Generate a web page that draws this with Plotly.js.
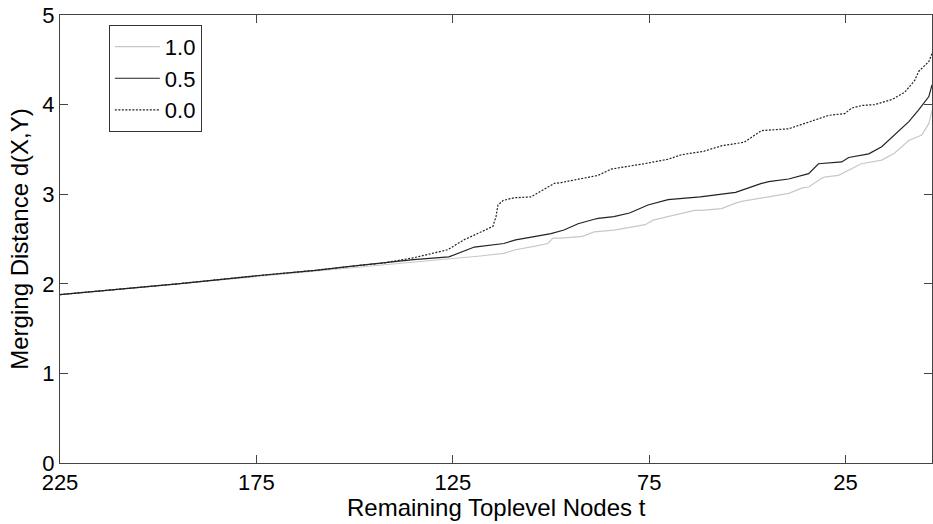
<!DOCTYPE html>
<html>
<head>
<meta charset="utf-8">
<script src="https://cdn.plot.ly/plotly-3.0.1.min.js"></script>
<style>html,body{margin:0;padding:0;background:#fff;}#chart{width:933px;height:524px;}</style>
</head>
<body>
<div id="chart"></div>
<script>
// Remaining toplevel nodes t and merging distance per weight
const t10 = [225,210,195,175,160,150,143,135,126,118,112,109,104,100.8,99.5,97.4,92,89,84,80,76,74,68,63.5,61.7,56.6,53,51.5,44.6,39.5,36,34.4,31,30.4,26.8,24,21,15.8,12.5,10.7,8.9,5.6,3.8,3];
const d10 = [1.88,1.94,2.00,2.08,2.14,2.18,2.21,2.24,2.27,2.31,2.34,2.38,2.42,2.45,2.51,2.51,2.53,2.58,2.60,2.63,2.66,2.71,2.77,2.82,2.82,2.84,2.90,2.92,2.97,3.01,3.07,3.08,3.18,3.19,3.21,3.27,3.34,3.38,3.46,3.53,3.60,3.66,3.79,3.93];

const t05 = [225,210,195,175,160,150,143,135,126,120.4,119.5,112,109,105,100,96.7,93.1,89,88,84,80,75.3,70.2,62,53,46.4,44.6,39.5,36.2,34.4,31.9,26,24.2,20.9,19.1,15.8,12.5,8.9,6.4,3.8,3];
const d05 = [1.88,1.94,2.00,2.09,2.15,2.20,2.23,2.27,2.30,2.39,2.41,2.45,2.49,2.52,2.56,2.60,2.67,2.72,2.73,2.75,2.79,2.88,2.94,2.97,3.02,3.12,3.14,3.17,3.21,3.23,3.34,3.36,3.41,3.44,3.45,3.53,3.66,3.81,3.94,4.09,4.22];

const t00 = [225,210,195,175,160,150,143,135,126.3,122.2,117.9,114.8,114,113.5,112.2,109.4,105.1,102.6,99.2,97.4,92.3,88,84.7,80.4,76.3,70.2,66.8,61,56.6,50.8,48.2,46.4,39.5,33.7,29.3,25.2,23.5,20.9,17.6,13,9.9,7.4,6.4,3.8,3];
const d00 = [1.88,1.94,2.00,2.09,2.15,2.20,2.23,2.29,2.38,2.49,2.58,2.64,2.75,2.88,2.93,2.96,2.97,3.03,3.12,3.13,3.17,3.21,3.28,3.31,3.34,3.39,3.44,3.48,3.54,3.58,3.66,3.71,3.73,3.82,3.88,3.90,3.96,3.99,4.00,4.06,4.14,4.27,4.37,4.48,4.57];

const xTicks = [225,175,125,75,25];
const seriesNames = ['1.0','0.5','0.0'];
const xTitle = 'Remaining Toplevel Nodes t';
const yTitle = 'Merging Distance d(X,Y)';

const font = 'Liberation Sans, Arial, Helvetica, sans-serif';
const traces = [
  {x: t10, y: d10, name: seriesNames[0], mode: 'lines', line: {color: '#c8c8c8', width: 1.2}},
  {x: t05, y: d05, name: seriesNames[1], mode: 'lines', line: {color: '#222', width: 1.2}},
  {x: t00, y: d00, name: seriesNames[2], mode: 'lines', line: {color: '#222', width: 1.2, dash: '2px,1.5px'}}
];
const axisCommon = {
  showgrid: false, zeroline: false, showline: true, linecolor: '#444', linewidth: 1,
  mirror: 'ticks', ticks: 'inside', ticklen: 8, tickcolor: '#444', tickwidth: 1,
  tickfont: {family: font, size: 22, color: '#000'}
};
const layout = {
  width: 933, height: 524,
  margin: {l: 60, r: 1, t: 15, b: 61},
  paper_bgcolor: '#fff', plot_bgcolor: '#fff',
  showlegend: true,
  legend: {x: 0.056, y: 0.978, xanchor: 'left', yanchor: 'top', bgcolor: '#fff', bordercolor: '#333', borderwidth: 1,
           itemwidth: 45, font: {family: font, size: 22, color: '#000'}, tracegroupgap: 0},
  xaxis: Object.assign({}, axisCommon, {
    range: [225, 3], tickvals: xTicks, ticktext: xTicks.map(String)
  }),
  yaxis: Object.assign({}, axisCommon, {
    range: [0, 5], dtick: 1, tick0: 0,
    title: {text: yTitle, standoff: 6, font: {family: font, size: 24, color: '#000'}}
  }),
  annotations: [{
    text: xTitle, xref: 'paper', yref: 'paper', x: 0.5, y: -0.099,
    xanchor: 'center', yanchor: 'middle', showarrow: false,
    font: {family: font, size: 24, color: '#000'}
  }]
};
Plotly.newPlot('chart', traces, layout, {displayModeBar: false, staticPlot: true});
</script>
</body>
</html>
